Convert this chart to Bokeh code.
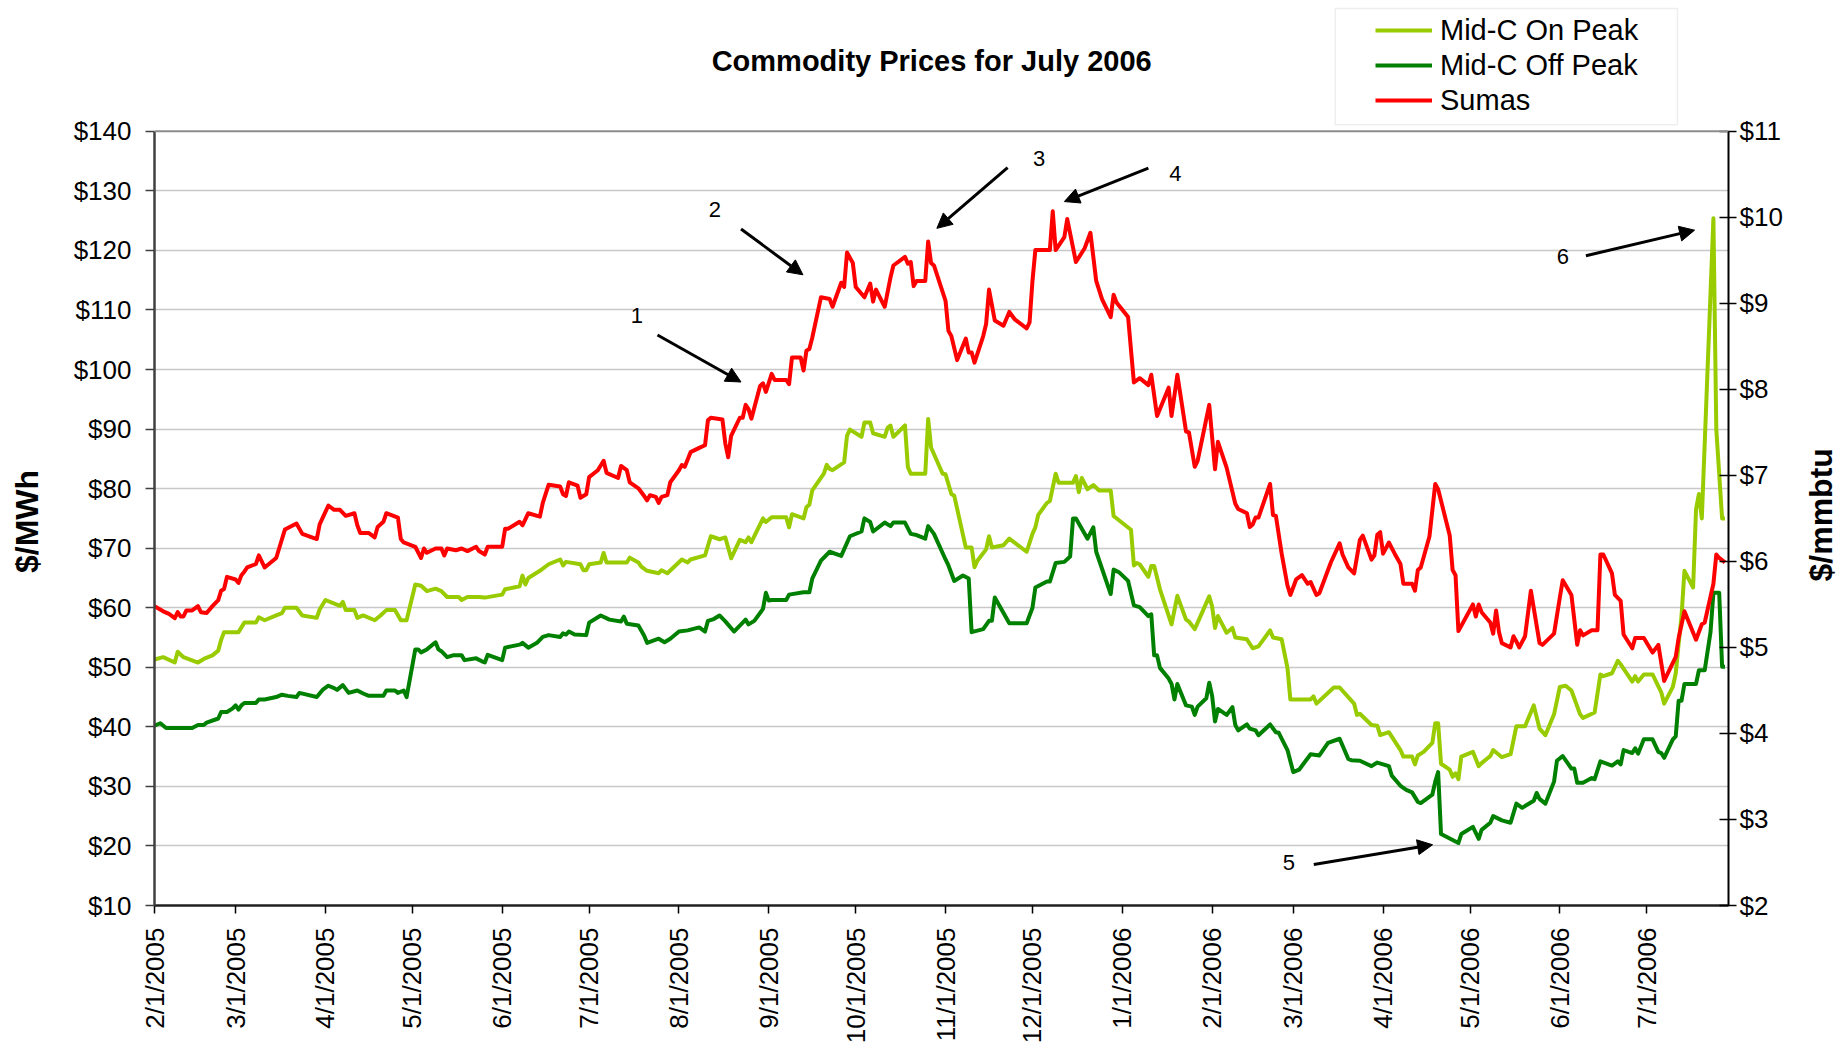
import math
import pandas as pd
from bokeh.plotting import figure
from bokeh.models import (Range1d, LinearAxis, FixedTicker, CustomJSTickFormatter,
                          PrintfTickFormatter, Arrow, NormalHead, Label, Legend,
                          LegendItem, ColumnDataSource, BoxAnnotation, Span)
from bokeh.embed import file_html
from bokeh.resources import INLINE

# ---------------- data ----------------
series_names = ["Mid-C On Peak", "Mid-C Off Peak", "Sumas"]

on_dates = [
 "2005-02-01","2005-02-04","2005-02-08","2005-02-09","2005-02-11","2005-02-16","2005-02-18","2005-02-21",
 "2005-02-23","2005-02-24","2005-02-25","2005-03-02","2005-03-04","2005-03-08","2005-03-09","2005-03-11",
 "2005-03-15","2005-03-17","2005-03-18","2005-03-22","2005-03-24","2005-03-29","2005-03-30","2005-04-01",
 "2005-04-06","2005-04-07","2005-04-08","2005-04-11","2005-04-12","2005-04-14","2005-04-18","2005-04-20",
 "2005-04-22","2005-04-25","2005-04-27","2005-04-29","2005-05-02","2005-05-04","2005-05-06","2005-05-09",
 "2005-05-11","2005-05-13","2005-05-17","2005-05-18","2005-05-20","2005-05-24","2005-05-26","2005-06-01",
 "2005-06-02","2005-06-07","2005-06-08","2005-06-09","2005-06-10","2005-06-14","2005-06-17","2005-06-21",
 "2005-06-22","2005-06-23","2005-06-28","2005-06-29","2005-06-30","2005-07-01","2005-07-05","2005-07-06",
 "2005-07-07","2005-07-14","2005-07-15","2005-07-18","2005-07-19","2005-07-21","2005-07-25","2005-07-26",
 "2005-07-28","2005-08-02","2005-08-04","2005-08-05","2005-08-10","2005-08-12","2005-08-15","2005-08-17",
 "2005-08-19","2005-08-22","2005-08-24","2005-08-25","2005-08-26","2005-08-30","2005-08-31","2005-09-02",
 "2005-09-07","2005-09-08","2005-09-09","2005-09-13","2005-09-14","2005-09-15","2005-09-16","2005-09-20",
 "2005-09-21","2005-09-22","2005-09-23","2005-09-27","2005-09-28","2005-09-29","2005-10-03","2005-10-04",
 "2005-10-06","2005-10-07","2005-10-11","2005-10-12","2005-10-13","2005-10-14","2005-10-18","2005-10-19",
 "2005-10-20","2005-10-25","2005-10-26","2005-10-27","2005-10-31","2005-11-01","2005-11-03","2005-11-04",
 "2005-11-08","2005-11-10","2005-11-11","2005-11-12","2005-11-15","2005-11-16","2005-11-17","2005-11-21",
 "2005-11-23","2005-11-29","2005-12-01","2005-12-02","2005-12-03","2005-12-06","2005-12-07","2005-12-09",
 "2005-12-10","2005-12-15","2005-12-16","2005-12-17","2005-12-18","2005-12-20","2005-12-22","2005-12-24",
 "2005-12-28","2005-12-29","2006-01-04","2006-01-05","2006-01-06","2006-01-07","2006-01-10","2006-01-11",
 "2006-01-12","2006-01-14","2006-01-18","2006-01-20","2006-01-23","2006-01-24","2006-01-26","2006-01-28",
 "2006-01-31","2006-02-01","2006-02-02","2006-02-03","2006-02-06","2006-02-08","2006-02-09","2006-02-13",
 "2006-02-15","2006-02-17","2006-02-21","2006-02-22","2006-02-25","2006-02-27","2006-02-28","2006-03-02",
 "2006-03-07","2006-03-08","2006-03-09","2006-03-15","2006-03-17","2006-03-22","2006-03-23","2006-03-24",
 "2006-03-28","2006-03-30","2006-03-31","2006-04-03","2006-04-07","2006-04-08","2006-04-11","2006-04-12",
 "2006-04-13","2006-04-15","2006-04-18","2006-04-19","2006-04-20","2006-04-21","2006-04-24","2006-04-25",
 "2006-04-26","2006-04-27","2006-04-28","2006-05-02","2006-05-04","2006-05-05","2006-05-08","2006-05-09",
 "2006-05-12","2006-05-15","2006-05-17","2006-05-20","2006-05-23","2006-05-25","2006-05-27","2006-05-30",
 "2006-06-01","2006-06-03","2006-06-05","2006-06-08","2006-06-09","2006-06-13","2006-06-15","2006-06-16",
 "2006-06-19","2006-06-21","2006-06-22","2006-06-26","2006-06-27","2006-06-28","2006-06-30","2006-07-03",
 "2006-07-06","2006-07-07","2006-07-10","2006-07-11","2006-07-12","2006-07-13","2006-07-14","2006-07-17",
 "2006-07-18","2006-07-19","2006-07-20","2006-07-24","2006-07-25","2006-07-27","2006-07-28"]
on_peak = [
 51.3,51.7,50.8,52.6,51.7,50.8,51.4,52.0,
 52.8,54.6,55.9,55.9,57.5,57.5,58.4,57.9,
 58.7,59.1,60.0,60.0,58.7,58.3,59.7,61.3,
 60.3,61.0,59.6,59.6,58.3,58.7,57.9,58.7,
 59.6,59.6,57.9,57.9,63.9,63.7,62.8,63.2,
 62.8,61.8,61.8,61.3,61.8,61.8,61.7,62.2,
 63.1,63.6,65.4,63.9,65.0,66.2,67.3,68.1,
 67.1,67.7,67.3,66.3,66.3,67.3,67.6,69.2,
 67.6,67.6,68.4,67.6,66.9,66.2,65.8,66.3,
 65.8,68.1,67.6,68.1,68.8,72.0,71.5,71.8,
 68.3,71.4,71.0,71.8,71.0,75.0,74.4,75.2,
 75.2,73.5,75.7,75.0,76.9,77.3,79.7,82.5,
 84.0,83.3,83.1,84.4,88.9,89.9,88.7,91.1,
 91.1,89.3,88.7,90.2,90.6,88.7,90.6,83.6,
 82.5,82.5,91.7,86.9,82.5,82.4,79.1,78.8,
 70.1,70.1,66.8,67.9,69.8,72.0,70.1,70.5,
 71.6,69.4,72.4,73.5,75.6,77.6,77.9,82.5,
 81.0,81.0,82.1,79.4,81.8,79.9,80.6,79.7,
 79.7,75.4,73.1,67.1,67.5,67.3,65.2,67.0,
 67.0,63.1,57.2,62.0,58.0,57.7,56.4,58.6,
 61.9,60.2,56.6,58.6,55.8,56.6,55.0,54.7,
 53.2,53.5,56.2,55.0,54.7,49.9,44.6,44.6,
 44.6,45.1,43.9,46.6,46.6,43.9,42.0,42.2,
 40.3,40.2,38.6,39.1,36.1,35.0,35.0,33.7,
 35.2,35.8,37.3,40.6,40.6,33.8,32.8,31.6,
 32.2,31.2,35.0,35.8,33.4,33.9,35.1,36.1,
 34.9,35.4,40.1,40.1,43.6,39.7,38.6,42.1,
 46.7,46.9,46.1,42.1,41.5,42.4,48.8,48.5,
 49.0,51.1,50.5,47.6,48.5,47.6,48.8,48.8,
 45.8,43.9,46.7,49.0,54.0,58.6,66.2,63.4,
 76.5,79.1,75.0,125.4,89.9,75.0,75.0]

off_dates = [
 "2005-02-01","2005-02-03","2005-02-05","2005-02-14","2005-02-16","2005-02-18","2005-02-19","2005-02-23",
 "2005-02-24","2005-02-26","2005-02-28","2005-03-01","2005-03-02","2005-03-03","2005-03-04","2005-03-08",
 "2005-03-09","2005-03-11","2005-03-15","2005-03-17","2005-03-19","2005-03-22","2005-03-23","2005-03-29",
 "2005-03-31","2005-04-02","2005-04-04","2005-04-05","2005-04-07","2005-04-09","2005-04-12","2005-04-14",
 "2005-04-16","2005-04-21","2005-04-22","2005-04-25","2005-04-26","2005-04-28","2005-04-29","2005-05-02",
 "2005-05-03","2005-05-04","2005-05-06","2005-05-09","2005-05-10","2005-05-11","2005-05-13","2005-05-15",
 "2005-05-18","2005-05-19","2005-05-23","2005-05-25","2005-05-26","2005-05-27","2005-06-01","2005-06-02",
 "2005-06-07","2005-06-08","2005-06-10","2005-06-13","2005-06-15","2005-06-17","2005-06-21","2005-06-22",
 "2005-06-23","2005-06-24","2005-06-26","2005-06-30","2005-07-01","2005-07-05","2005-07-08","2005-07-12",
 "2005-07-13","2005-07-14","2005-07-18","2005-07-20","2005-07-21","2005-07-25","2005-07-27","2005-07-29",
 "2005-08-01","2005-08-04","2005-08-08","2005-08-10","2005-08-11","2005-08-13","2005-08-15","2005-08-17",
 "2005-08-20","2005-08-24","2005-08-25","2005-08-27","2005-08-30","2005-08-31","2005-09-01","2005-09-02",
 "2005-09-07","2005-09-08","2005-09-13","2005-09-15","2005-09-16","2005-09-19","2005-09-22","2005-09-26",
 "2005-09-29","2005-10-03","2005-10-04","2005-10-06","2005-10-07","2005-10-11","2005-10-13","2005-10-14",
 "2005-10-18","2005-10-20","2005-10-22","2005-10-25","2005-10-26","2005-10-28","2005-11-01","2005-11-02",
 "2005-11-04","2005-11-07","2005-11-09","2005-11-10","2005-11-14","2005-11-16","2005-11-17","2005-11-18",
 "2005-11-23","2005-11-29","2005-12-01","2005-12-02","2005-12-06","2005-12-07","2005-12-09","2005-12-12",
 "2005-12-14","2005-12-15","2005-12-16","2005-12-20","2005-12-22","2005-12-23","2005-12-28","2005-12-29",
 "2005-12-31","2006-01-03","2006-01-05","2006-01-07","2006-01-10","2006-01-11","2006-01-12","2006-01-13",
 "2006-01-14","2006-01-17","2006-01-18","2006-01-19","2006-01-20","2006-01-23","2006-01-25","2006-01-26",
 "2006-01-27","2006-01-30","2006-01-31","2006-02-01","2006-02-02","2006-02-03","2006-02-06","2006-02-08",
 "2006-02-09","2006-02-10","2006-02-13","2006-02-14","2006-02-16","2006-02-17","2006-02-21","2006-02-23",
 "2006-02-24","2006-02-27","2006-03-01","2006-03-03","2006-03-07","2006-03-10","2006-03-13","2006-03-17",
 "2006-03-20","2006-03-21","2006-03-24","2006-03-28","2006-03-30","2006-04-03","2006-04-04","2006-04-07",
 "2006-04-09","2006-04-11","2006-04-13","2006-04-14","2006-04-18","2006-04-19","2006-04-20","2006-04-21",
 "2006-04-25","2006-04-27","2006-04-28","2006-05-02","2006-05-04","2006-05-05","2006-05-08","2006-05-09",
 "2006-05-12","2006-05-15","2006-05-17","2006-05-19","2006-05-23","2006-05-24","2006-05-25","2006-05-27",
 "2006-05-30","2006-05-31","2006-06-02","2006-06-05","2006-06-06","2006-06-07","2006-06-09","2006-06-12",
 "2006-06-13","2006-06-15","2006-06-19","2006-06-21","2006-06-22","2006-06-23","2006-06-26","2006-06-27",
 "2006-06-28","2006-06-30","2006-07-03","2006-07-05","2006-07-06","2006-07-07","2006-07-10","2006-07-11",
 "2006-07-12","2006-07-13","2006-07-14","2006-07-18","2006-07-19","2006-07-21","2006-07-23","2006-07-24",
 "2006-07-26","2006-07-27","2006-07-28"]
off_peak = [
 40.2,40.6,39.8,39.8,40.3,40.3,40.7,41.4,
 42.5,42.5,43.1,43.6,42.9,43.6,44.0,44.0,
 44.6,44.6,45.0,45.4,45.2,45.0,45.7,45.0,
 46.2,46.9,46.5,46.2,47.0,45.7,46.1,45.6,
 45.2,45.2,46.1,46.1,45.7,46.1,45.0,53.0,
 53.0,52.5,53.0,54.2,53.0,52.7,51.7,52.0,
 52.0,51.2,51.5,51.0,50.8,52.1,51.2,53.3,
 53.8,54.1,53.3,54.1,55.1,55.4,55.1,55.7,
 55.5,56.0,55.5,55.4,57.5,58.7,58.0,57.7,
 58.5,57.3,57.0,55.3,54.1,54.8,54.2,54.8,
 56.0,56.2,56.7,56.0,57.8,58.1,58.7,57.7,
 56.0,58.0,57.2,57.8,59.8,62.5,61.2,61.3,
 61.3,62.2,62.6,62.6,64.9,67.9,69.4,68.7,
 72.0,72.8,75.0,74.4,72.8,74.3,73.7,74.3,
 74.3,72.4,72.2,71.6,73.7,72.4,68.1,67.1,
 64.5,65.4,64.9,55.9,56.4,57.8,57.8,61.7,
 57.4,57.4,60.0,63.4,64.4,64.4,67.5,67.7,
 68.6,75.0,75.0,71.6,73.5,69.4,62.3,66.4,
 65.9,64.5,60.4,60.1,58.6,58.9,52.0,52.0,
 49.9,48.1,47.2,44.6,47.2,43.6,43.4,42.0,
 43.4,44.8,47.4,45.2,40.9,43.0,42.0,43.3,
 40.3,39.4,40.4,39.7,39.4,38.6,40.4,39.1,
 39.0,36.1,32.4,32.8,35.4,35.2,37.3,38.0,
 34.6,34.4,34.3,33.4,34.0,33.4,31.8,30.1,
 29.4,29.0,27.4,27.2,28.6,30.8,32.4,22.0,
 21.0,20.5,22.0,23.2,21.2,22.7,23.9,25.0,
 24.3,23.9,27.1,26.4,27.6,28.9,27.9,27.1,
 30.8,34.3,35.1,33.0,33.0,30.6,30.6,31.4,
 31.2,34.2,33.5,34.2,33.7,36.1,35.6,36.4,
 35.5,37.9,37.9,35.8,35.6,34.8,37.9,38.4,
 44.4,44.4,47.2,47.2,49.5,49.5,55.9,62.5,
 62.5,50.1,50.1]

sumas_dates = [
 "2005-02-01","2005-02-04","2005-02-06","2005-02-08","2005-02-09","2005-02-10","2005-02-11","2005-02-12",
 "2005-02-14","2005-02-16","2005-02-17","2005-02-19","2005-02-21","2005-02-23","2005-02-24","2005-02-25",
 "2005-02-26","2005-03-01","2005-03-02","2005-03-03","2005-03-04","2005-03-05","2005-03-08","2005-03-09",
 "2005-03-11","2005-03-15","2005-03-18","2005-03-22","2005-03-24","2005-03-29","2005-03-30","2005-04-02",
 "2005-04-04","2005-04-06","2005-04-08","2005-04-11","2005-04-12","2005-04-13","2005-04-16","2005-04-18",
 "2005-04-19","2005-04-21","2005-04-22","2005-04-26","2005-04-27","2005-04-28","2005-05-02","2005-05-04",
 "2005-05-05","2005-05-06","2005-05-09","2005-05-11","2005-05-12","2005-05-13","2005-05-16","2005-05-18",
 "2005-05-20","2005-05-23","2005-05-24","2005-05-26","2005-05-27","2005-06-01","2005-06-02","2005-06-03",
 "2005-06-06","2005-06-07","2005-06-08","2005-06-10","2005-06-14","2005-06-15","2005-06-17","2005-06-21",
 "2005-06-22","2005-06-23","2005-06-24","2005-06-27","2005-06-28","2005-06-30","2005-07-01","2005-07-04",
 "2005-07-06","2005-07-07","2005-07-11","2005-07-12","2005-07-14","2005-07-15","2005-07-18","2005-07-20",
 "2005-07-21","2005-07-22","2005-07-24","2005-07-25","2005-07-26","2005-07-28","2005-07-29","2005-08-01",
 "2005-08-02","2005-08-03","2005-08-05","2005-08-08","2005-08-10","2005-08-11","2005-08-12","2005-08-16",
 "2005-08-17","2005-08-18","2005-08-19","2005-08-22","2005-08-23","2005-08-24","2005-08-25","2005-08-26",
 "2005-08-29","2005-08-30","2005-08-31","2005-09-02","2005-09-03","2005-09-07","2005-09-08","2005-09-09",
 "2005-09-12","2005-09-13","2005-09-14","2005-09-15","2005-09-16","2005-09-19","2005-09-22","2005-09-23",
 "2005-09-26","2005-09-27","2005-09-28","2005-09-30","2005-10-01","2005-10-04","2005-10-06","2005-10-07",
 "2005-10-08","2005-10-11","2005-10-13","2005-10-14","2005-10-18","2005-10-19","2005-10-20","2005-10-21",
 "2005-10-22","2005-10-25","2005-10-26","2005-10-27","2005-10-28","2005-11-01","2005-11-02","2005-11-03",
 "2005-11-05","2005-11-08","2005-11-09","2005-11-10","2005-11-11","2005-11-14","2005-11-15","2005-11-16",
 "2005-11-18","2005-11-21","2005-11-23","2005-11-25","2005-11-29","2005-11-30","2005-12-01","2005-12-02",
 "2005-12-07","2005-12-08","2005-12-09","2005-12-12","2005-12-13","2005-12-16","2005-12-19","2005-12-21",
 "2005-12-23","2005-12-25","2005-12-28","2005-12-29","2005-12-30","2006-01-03","2006-01-05","2006-01-07",
 "2006-01-10","2006-01-11","2006-01-13","2006-01-17","2006-01-18","2006-01-20","2006-01-23","2006-01-24",
 "2006-01-26","2006-01-27","2006-01-31","2006-02-02","2006-02-03","2006-02-06","2006-02-09","2006-02-10",
 "2006-02-13","2006-02-14","2006-02-15","2006-02-16","2006-02-17","2006-02-21","2006-02-22","2006-02-23",
 "2006-02-25","2006-02-27","2006-02-28","2006-03-02","2006-03-04","2006-03-06","2006-03-07","2006-03-09",
 "2006-03-10","2006-03-14","2006-03-17","2006-03-18","2006-03-20","2006-03-22","2006-03-24","2006-03-25",
 "2006-03-28","2006-03-29","2006-03-30","2006-03-31","2006-04-01","2006-04-03","2006-04-05","2006-04-07",
 "2006-04-08","2006-04-11","2006-04-12","2006-04-13","2006-04-14","2006-04-17","2006-04-19","2006-04-20",
 "2006-04-24","2006-04-25","2006-04-26","2006-04-27","2006-05-02","2006-05-03","2006-05-04","2006-05-05",
 "2006-05-08","2006-05-09","2006-05-10","2006-05-11","2006-05-12","2006-05-15","2006-05-16","2006-05-17",
 "2006-05-18","2006-05-20","2006-05-22","2006-05-25","2006-05-26","2006-05-30","2006-06-01","2006-06-02",
 "2006-06-05","2006-06-07","2006-06-08","2006-06-09","2006-06-12","2006-06-14","2006-06-15","2006-06-16",
 "2006-06-19","2006-06-20","2006-06-22","2006-06-23","2006-06-26","2006-06-27","2006-06-30","2006-07-03",
 "2006-07-05","2006-07-07","2006-07-11","2006-07-12","2006-07-14","2006-07-18","2006-07-20","2006-07-21",
 "2006-07-24","2006-07-25","2006-07-26","2006-07-28"]
sumas = [
 5.48,5.42,5.39,5.34,5.41,5.36,5.36,5.43,
 5.43,5.48,5.41,5.40,5.48,5.55,5.66,5.68,
 5.82,5.79,5.75,5.84,5.88,5.93,5.97,6.07,
 5.93,6.04,6.37,6.44,6.32,6.26,6.43,6.65,
 6.60,6.60,6.53,6.56,6.42,6.33,6.33,6.28,
 6.40,6.46,6.56,6.51,6.26,6.22,6.17,6.04,
 6.15,6.10,6.15,6.15,6.07,6.15,6.13,6.15,
 6.12,6.17,6.12,6.08,6.17,6.17,6.38,6.38,
 6.44,6.46,6.42,6.56,6.52,6.68,6.89,6.87,
 6.78,6.76,6.92,6.88,6.74,6.78,6.98,7.06,
 7.17,7.03,6.97,7.11,7.06,6.92,6.85,6.76,
 6.71,6.77,6.75,6.68,6.75,6.77,6.92,7.06,
 7.12,7.10,7.27,7.32,7.35,7.64,7.67,7.65,
 7.37,7.21,7.46,7.67,7.67,7.82,7.77,7.66,
 8.04,8.07,7.97,8.18,8.11,8.11,8.06,8.37,
 8.37,8.22,8.45,8.47,8.60,9.07,9.05,8.96,
 9.24,9.19,9.59,9.47,9.19,9.07,9.23,9.02,
 9.16,8.96,9.30,9.44,9.54,9.46,9.48,9.20,
 9.26,9.26,9.72,9.47,9.44,9.03,8.68,8.62,
 8.34,8.59,8.43,8.43,8.31,8.62,8.76,9.16,
 8.80,8.74,8.90,8.81,8.71,8.78,9.26,9.62,
 9.62,10.07,9.62,9.77,9.98,9.48,9.64,9.82,
 9.26,9.05,8.84,9.10,9.01,8.84,8.08,8.13,
 8.05,8.17,7.69,8.02,7.69,8.17,7.51,7.50,
 7.10,7.17,7.82,7.07,7.39,7.09,6.67,6.61,
 6.56,6.40,6.43,6.51,6.51,6.90,6.54,6.53,
 6.09,5.72,5.61,5.79,5.84,5.74,5.76,5.61,
 5.63,5.99,6.21,6.08,5.93,5.86,6.25,6.30,
 6.02,6.07,6.31,6.34,6.09,6.22,6.09,5.97,
 5.74,5.74,5.66,5.90,5.93,6.29,6.90,6.84,
 6.30,5.90,5.84,5.19,5.50,5.36,5.50,5.41,
 5.29,5.16,5.43,5.18,5.05,5.00,5.13,5.07,
 5.00,5.13,5.66,5.05,5.03,5.16,5.58,5.78,
 5.61,5.03,5.20,5.14,5.20,5.20,6.08,6.08,
 5.86,5.61,5.54,5.15,4.99,5.11,5.11,4.94,
 5.03,4.61,4.89,5.11,5.42,5.09,5.27,5.29,
 5.74,6.08,6.04,5.99]

tick_dates = ["2005-02-01","2005-03-01","2005-04-01","2005-05-01","2005-06-01","2005-07-01",
              "2005-08-01","2005-09-01","2005-10-01","2005-11-01","2005-12-01","2006-01-01",
              "2006-02-01","2006-03-01","2006-04-01","2006-05-01","2006-06-01","2006-07-01"]
mwh_ticks = [10, 20, 30, 40, 50, 60, 70, 80, 90, 100, 110, 120, 130, 140]
mmbtu_ticks = [2, 3, 4, 5, 6, 7, 8, 9, 10, 11]
left_title = "$/MWh"
right_title = "$/mmbtu"

# annotation numbers: label position and arrow start/end (date, value in $/MWh)
note_text = ["1", "2", "3", "4", "5", "6"]
note_pos = [("2005-07-17 12:00", 109.0), ("2005-08-13 10:00", 126.8), ("2005-12-03 08:00", 135.4),
            ("2006-01-19 08:00", 132.9), ("2006-02-27 12:00", 17.2), ("2006-06-02 02:00", 119.0)]
arrow_from = [("2005-07-24 14:00", 105.8), ("2005-08-22 10:00", 123.6), ("2005-11-22 10:00", 133.9),
              ("2006-01-10 00:00", 133.8), ("2006-03-08 02:00", 16.9), ("2006-06-10 00:00", 119.1)]
arrow_to = [("2005-08-22 10:00", 97.9), ("2005-09-12 19:00", 115.9), ("2005-10-29 00:00", 123.7),
            ("2005-12-12 00:00", 128.2), ("2006-04-18 02:00", 20.2), ("2006-07-17 12:00", 123.4)]

# ---------------- figure ----------------
FONT = "Liberation Sans"

def ms(s):
    return pd.Timestamp(s).value / 1e6

x_start = pd.Timestamp("2005-02-01")
x_end = pd.Timestamp("2006-07-29 05:00")

# frame spans the full height above the x axis so that title and legend can sit inside it;
# $10..$140 occupy the lower 774 px (5.9554 px per $)
FRAME_H = 905
Y_TOP = 10 + FRAME_H / 5.9554
p = figure(frame_width=1574, frame_height=FRAME_H, x_axis_type="datetime",
           x_range=Range1d(x_start, x_end), y_range=Range1d(10, Y_TOP),
           output_backend="svg", toolbar_location=None,
           min_border_left=154, min_border_right=60, min_border_top=0, min_border_bottom=130)
p.extra_y_ranges = {"mmbtu": Range1d(2, 2 + (Y_TOP - 10) * 9 / 130),
                    "rows": Range1d(0, FRAME_H)}   # helper range in frame pixel rows for the axis titles
p.background_fill_color = "white"
p.border_fill_color = "white"
p.outline_line_color = None

# grid
p.xgrid.visible = False
p.ygrid.ticker = FixedTicker(ticks=mwh_ticks[:-1])
p.ygrid.grid_line_color = "#c8c8c8"
p.ygrid.grid_line_width = 1.5
p.add_layout(Span(location=140, dimension="width", line_color="#8c8c8c", line_width=2))

def style_ticks(ax):
    ax.major_label_text_font = FONT
    ax.major_label_text_font_size = "26px"
    ax.major_label_text_color = "black"
    ax.minor_tick_line_color = None
    ax.major_tick_line_width = 1.5

# left axis
ya = p.yaxis[0]
ya.bounds = (10, 140)
ya.ticker = FixedTicker(ticks=mwh_ticks)
ya.formatter = PrintfTickFormatter(format="$%d")
style_ticks(ya)
ya.major_tick_out = 9
ya.major_tick_in = 0
ya.major_label_standoff = 14
ya.axis_line_width = 2.5
ya.axis_line_color = "#404040"
ya.major_tick_line_color = "#404040"

# right axis
ra = LinearAxis(y_range_name="mmbtu", ticker=FixedTicker(ticks=mmbtu_ticks),
                formatter=PrintfTickFormatter(format="$%d"), bounds=(2, 11))
style_ticks(ra)
ra.major_tick_out = 8
ra.major_tick_in = 9
ra.major_label_standoff = 3
ra.axis_line_width = 2
ra.axis_line_color = "black"
p.add_layout(ra, "right")

# axis titles, drawn as the single label of a bare helper axis so they can sit
# at the reference's height (centred on the $10..$140 span, reading upwards)
def title_axis(text, row, orientation, standoff):
    ax = LinearAxis(y_range_name="rows", ticker=FixedTicker(ticks=[row]),
                    formatter=CustomJSTickFormatter(code="return %r;" % text))
    ax.axis_line_color = None
    ax.major_tick_line_color = None
    ax.minor_tick_line_color = None
    ax.major_tick_out = 0
    ax.major_tick_in = 0
    ax.major_label_orientation = orientation
    ax.major_label_standoff = standoff
    ax.major_label_text_font = FONT
    ax.major_label_text_font_size = "32px"
    ax.major_label_text_font_style = "bold"
    ax.major_label_text_color = "black"
    return ax

p.add_layout(title_axis(left_title, 384, "parallel", 26), "left")
p.add_layout(title_axis(right_title, 324, math.pi / 2, 35), "right")

# bottom axis
xa = p.xaxis[0]
xa.ticker = FixedTicker(ticks=[ms(d) for d in tick_dates])
xa.formatter = CustomJSTickFormatter(code="""
const d = new Date(tick);
return (d.getUTCMonth() + 1) + "/" + d.getUTCDate() + "/" + d.getUTCFullYear();
""")
style_ticks(xa)
xa.major_label_orientation = math.pi / 2
xa.major_tick_out = 8
xa.major_tick_in = 0
xa.major_label_standoff = 14
xa.axis_line_width = 2.5
xa.axis_line_color = "#202020"

# series
src_on = ColumnDataSource(dict(x=pd.to_datetime(on_dates), y=on_peak))
src_off = ColumnDataSource(dict(x=pd.to_datetime(off_dates), y=off_peak))
src_su = ColumnDataSource(dict(x=pd.to_datetime(sumas_dates), y=sumas))
r_on = p.line("x", "y", source=src_on, line_color="#99cc00", line_width=4, line_join="round")
r_off = p.line("x", "y", source=src_off, line_color="#008000", line_width=4, line_join="round")
r_su = p.line("x", "y", source=src_su, line_color="#ff0000", line_width=4, line_join="round",
              y_range_name="mmbtu")

# title
p.add_layout(Label(x=ms("2005-10-27 05:00"), y=151.8, text="Commodity Prices for July 2006",
                   text_align="center", text_baseline="alphabetic", text_font=FONT,
                   text_font_size="29px", text_font_style="bold", text_color="black"))

# legend frame + legend
p.add_layout(BoxAnnotation(left=ms("2006-03-15 12:00"), right=ms("2006-07-11 14:00"),
                           bottom=141.1, top=160.6, fill_color="white", fill_alpha=1.0,
                           line_color="#c8c8c8", line_width=1.5))
legend = Legend(items=[LegendItem(label=series_names[0], renderers=[r_on]),
                       LegendItem(label=series_names[1], renderers=[r_off]),
                       LegendItem(label=series_names[2], renderers=[r_su])],
                location=(1221, 788), padding=0, margin=0, spacing=1,
                glyph_width=57, glyph_height=34, label_height=34, label_standoff=8,
                label_text_font=FONT, label_text_font_size="29px", label_text_color="black",
                border_line_alpha=0, background_fill_alpha=0)
p.add_layout(legend)

# annotations
for t, (dx, vy) in zip(note_text, note_pos):
    p.add_layout(Label(x=ms(dx), y=vy, text=t, text_align="center", text_baseline="middle",
                       text_font=FONT, text_font_size="22px", text_color="black"))
for (x0, y0), (x1, y1) in zip(arrow_from, arrow_to):
    p.add_layout(Arrow(end=NormalHead(size=15, fill_color="black", line_color="black"),
                       x_start=ms(x0), y_start=y0, x_end=ms(x1), y_end=y1,
                       line_color="black", line_width=3))

open("out.html", "w").write(file_html(p, INLINE))
